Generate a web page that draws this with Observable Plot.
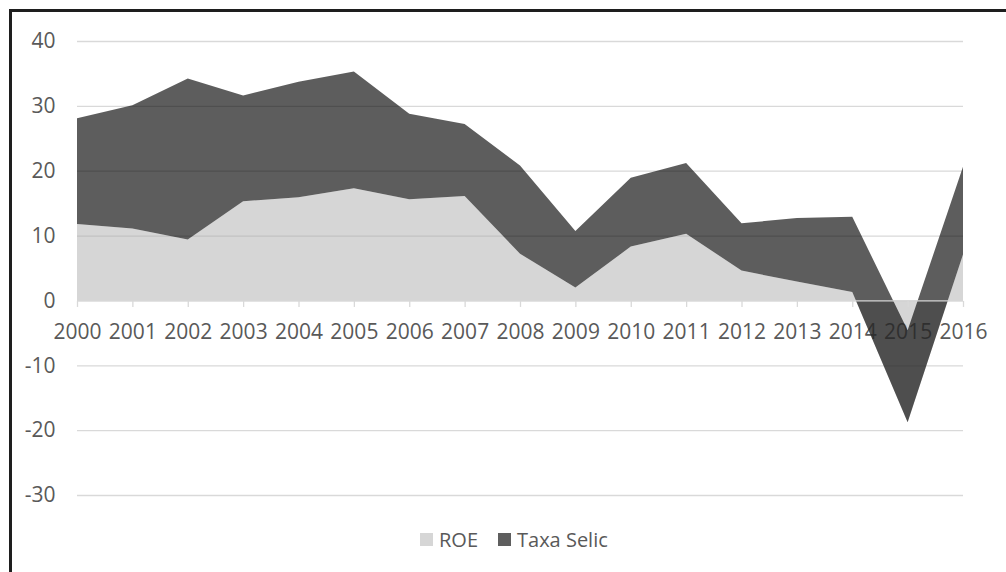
<!DOCTYPE html>
<html>
<head>
<meta charset="utf-8">
<script src="https://cdn.jsdelivr.net/npm/d3@7"></script>
<script src="https://cdn.jsdelivr.net/npm/@observablehq/plot@0.6"></script>
<style>
  body { margin: 0; background: #fff; font-family: "Open Sans", sans-serif; }
  #wrap { position: relative; width: 1006px; height: 572px; overflow: hidden; background: #fff; }
  #frame { position: absolute; left: 9px; top: 9px; width: 1200px; height: 800px;
           border-left: 3px solid #1e1e1e; border-top: 3px solid #1e1e1e; }
  #chart { position: absolute; left: 0; top: 0; }
  #legend { position: absolute; left: 420px; top: 526px; display: flex; align-items: center;
            font-size: 20px; color: #595959; white-space: nowrap; }
  .item { display: flex; align-items: center; margin-right: 20px; }
  .sw { width: 13px; height: 13px; margin-right: 6px; }
</style>
</head>
<body>
<div id="wrap">
  <div id="frame"></div>
  <div id="chart"></div>
  <div id="legend"></div>
</div>
<script>
// Annual ROE and Selic rate (%), 2000–2016
const years = [2000, 2001, 2002, 2003, 2004, 2005, 2006, 2007, 2008,
               2009, 2010, 2011, 2012, 2013, 2014, 2015, 2016];
const roe   = [11.8, 11.1, 9.4, 15.3, 15.9, 17.3, 15.6, 16.1, 7.2,
               2.0, 8.3, 10.3, 4.6, 2.9, 1.3, -18.8, 7.1];
const selic = [16.3, 19.0, 24.8, 16.3, 17.8, 18.0, 13.2, 11.1, 13.6,
               8.7, 10.6, 10.9, 7.3, 9.8, 11.6, 14.2, 13.5];
const yTicks = [40, 30, 20, 10, 0, -10, -20, -30];
const seriesNames = ["ROE", "Taxa Selic"];
const seriesColors = ["#d6d6d6", "#5e5e5e"];

// Cumulative stacking: Selic sits on top of ROE, whatever the sign
const table = years.map((year, i) => ({
  year, roe: roe[i], selic: selic[i], top: roe[i] + selic[i]
}));

// Small downward tick under the zero line
const tickSymbol = { draw(ctx) { ctx.moveTo(0, 0); ctx.lineTo(0, 6); } };

const textColor = "#595959";
const gridColor = "#d9d9d9";

const chart = Plot.plot({
  width: 1006,
  height: 515,
  marginLeft: 77,
  marginRight: 43,
  marginTop: 41,
  marginBottom: 20,
  style: { background: "transparent", fontFamily: "Open Sans, sans-serif" },
  x: { type: "linear", domain: [2000, 2016], axis: null },
  y: { domain: [-30, 40], axis: null },
  marks: [
    Plot.ruleY(yTicks, { y: d => d, stroke: gridColor, strokeWidth: 1.3 }),
    Plot.axisY(yTicks, {
      tickFormat: d => String(d), tickSize: 0, tickPadding: 22,
      fontSize: 21, color: textColor
    }),
    Plot.text(years, {
      x: d => d, y: d => 0, text: d => String(d), dy: 31,
      fontSize: 21, fill: textColor
    }),
    Plot.areaY(table, { x: "year", y1: d => 0, y2: "roe", fill: "#acacac", fillOpacity: 0.494 }),
    Plot.areaY(table, { x: "year", y1: "roe", y2: "top", fill: "#000", fillOpacity: 0.634 }),
    Plot.ruleY([0], { y: d => d, stroke: gridColor, strokeWidth: 1.3 }),
    Plot.dot(years, { x: d => d, y: d => 0, symbol: tickSymbol, stroke: gridColor, strokeWidth: 1.3, fill: "none" })
  ]
});
document.getElementById("chart").appendChild(chart);

const legend = document.getElementById("legend");
seriesNames.forEach((name, i) => {
  const item = document.createElement("div");
  item.className = "item";
  const sw = document.createElement("div");
  sw.className = "sw";
  sw.style.background = seriesColors[i];
  const label = document.createElement("span");
  label.textContent = name;
  item.appendChild(sw);
  item.appendChild(label);
  legend.appendChild(item);
});
</script>
</body>
</html>
